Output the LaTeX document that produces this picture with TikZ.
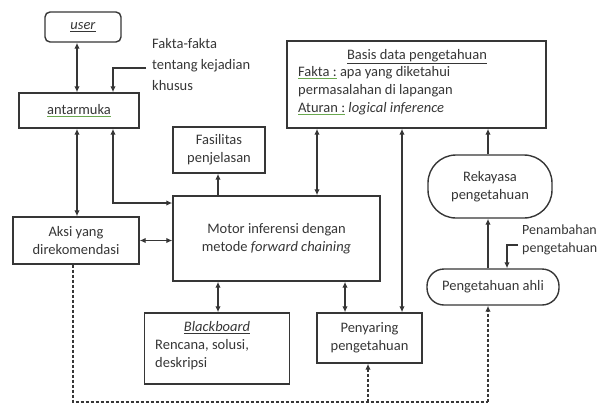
\documentclass[tikz,border=0pt]{standalone}
\usepackage{fontspec}
\setmainfont{Carlito}
\usetikzlibrary{arrows.meta}
\definecolor{ink}{HTML}{363636}
\definecolor{spell}{HTML}{6AA84F}
\newcommand{\spellul}[1]{{\color{spell}\underline{\textcolor{ink}{#1}}}}
\begin{document}
\begin{tikzpicture}[x=1pt,y=-1pt,
  every node/.style={font=\fontsize{14.5}{18}\selectfont, text=ink},
  box/.style={draw=ink, line width=1.4pt, inner sep=0pt, align=center},
  txt/.style={inner sep=0pt, align=left},
  conn/.style={draw=ink, line width=1.4pt, {Latex[length=6pt,width=5.5pt]}-{Latex[length=6pt,width=5.5pt]}},
  oneway/.style={draw=ink, line width=1.4pt, -{Latex[length=6pt,width=5.5pt]}},
  dashconn/.style={draw=ink, line width=1.3pt, dash pattern=on 3pt off 2pt}
]
\useasboundingbox (0,0) rectangle (607,405);

% boxes
\node[box, rounded corners=5pt, minimum width=76pt, minimum height=30pt] (user) at (83,27) {\underline{\textit{user}}};
\node[box, minimum width=120pt, minimum height=35pt] (antarmuka) at (79,110.5) {\spellul{antarmuka}};
\node[box, minimum width=92pt, minimum height=46pt] (fasilitas) at (219,150) {Fasilitas\\penjelasan};
\node[box, minimum width=259pt, minimum height=87pt] (basis) at (416.5,84.5) {};
\node[box, minimum width=207pt, minimum height=85pt] (motor) at (276.5,238.5) {Motor inferensi dengan\\metode \textit{forward chaining}};
\node[box, minimum width=126pt, minimum height=47pt] (aksi) at (76,240.5) {Aksi yang\\direkomendasi};
\node[box, minimum width=145pt, minimum height=71pt] (blackboard) at (217,348.5) {};
\node[box, minimum width=105pt, minimum height=50pt] (penyaring) at (369.5,338) {Penyaring\\pengetahuan};
\node[box, rounded corners=28pt, minimum width=124pt, minimum height=63pt] (rekayasa) at (490,186.5) {Rekayasa\\pengetahuan};
\node[box, rounded corners=17pt, minimum width=132pt, minimum height=36pt] (ahli) at (493,287) {Pengetahuan ahli};

% texts inside basis
\node[txt] (basistitle) at (417,57) {\underline{Basis data pengetahuan}};
\node[txt, anchor=north west] (basistext) at (298,66) {\spellul{Fakta :} apa yang diketahui\\permasalahan di lapangan\\\spellul{Aturan :} \textit{logical inference}};

% texts inside blackboard
\node[txt] (bbtitle) at (217,328) {\underline{\textit{Blackboard}}};
\node[txt, anchor=north west] (bbtext) at (155,339) {Rencana, solusi,\\deskripsi};

% free texts
\node[txt, anchor=north west] (fakta) at (152,38) {Fakta-fakta\\[3pt]tentang kejadian\\[3pt]khusus};
\node[txt, anchor=north west, font=\fontsize{14}{18}\selectfont] (penambahan) at (522,225) {Penambahan\\pengetahuan};

% column coordinates
\coordinate (c73) at (73,0);
\coordinate (c77) at (77,0);
\coordinate (c113) at (113,0);
\coordinate (c218) at (218,0);
\coordinate (c317) at (317,0);
\coordinate (c345) at (345,0);
\coordinate (c368) at (368,0);
\coordinate (c402) at (402,0);
\coordinate (c488) at (488,0);
\coordinate (c507) at (507,0);
\coordinate (fk) at (146,68);
\coordinate (pk) at (518,245);
\coordinate (am) at (113,203);
\coordinate (d1) at (73,402);
\coordinate (d2) at (488,402);
\coordinate (d3) at (368,402);

% connectors
\draw[conn] (user.south -| c77) -- (antarmuka.north -| c77);
\draw[oneway] (fk) -| (antarmuka.north -| c113);
\draw[conn] (antarmuka.south -| c77) -- (aksi.north -| c77);
\draw[conn] (antarmuka.south -| c113) -- (am) -- (motor.west |- am);
\draw[oneway] (motor.north -| c218) -- (fasilitas.south -| c218);
\draw[conn] (aksi.east) -- (motor.west |- aksi.east);
\draw[conn] (motor.south -| c218) -- (blackboard.north -| c218);
\draw[conn] (motor.south -| c345) -- (penyaring.north -| c345);
\draw[conn] (basis.south -| c317) -- (motor.north -| c317);
\draw[conn] (basis.south -| c402) -- (penyaring.north -| c402);
\draw[oneway] (rekayasa.north -| c488) -- (basis.south -| c488);
\draw[oneway] (ahli.north -| c488) -- (rekayasa.south -| c488);
\draw[oneway] (pk) -| (ahli.north -| c507);

% dashed feedback
\draw[dashconn] (aksi.south -| c73) -- (d1) -- (d2);
\draw[dashconn, -{Latex[length=6pt,width=5.5pt]}] (d2) -- (ahli.south -| c488);
\draw[dashconn, -{Latex[length=6pt,width=5.5pt]}] (d3) -- (penyaring.south -| c368);
\end{tikzpicture}
\end{document}
